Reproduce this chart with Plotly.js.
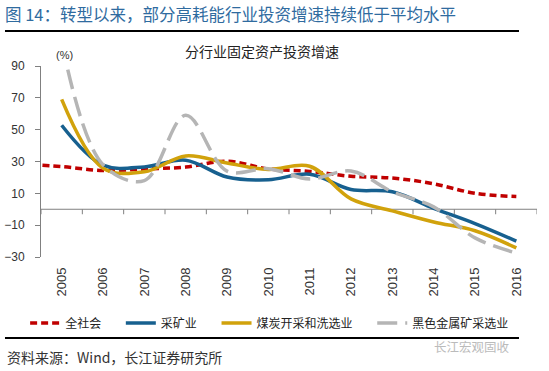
<!DOCTYPE html>
<html>
<head>
<meta charset="utf-8">
<script src="https://cdn.plot.ly/plotly-3.0.1.min.js"></script>
<style>html,body{margin:0;padding:0;background:#fff;}#chart{width:549px;height:371px;}</style>
</head>
<body>
<div id="chart"></div>
<script>
// ---- data ----
var years = [2005, 2006, 2007, 2008, 2009, 2010, 2011, 2012, 2013, 2014, 2015, 2016];
var yearLabels = ['2005','2006','2007','2008','2009','2010','2011','2012','2013','2014','2015','2016'];
// 全社会 line continues to the left edge of the plot, so it carries one earlier point
var allSocietyYears = [2004, 2005, 2006, 2007, 2008, 2009, 2010, 2011, 2012, 2013, 2014, 2015, 2016];
var allSociety = [28.5, 26.8, 24.3, 25.3, 26.5, 30.2, 25.3, 23.8, 20.7, 19.6, 16.0, 10.0, 8.0];
var mining = [52.8, 27.7, 26.6, 30.8, 20.3, 18.5, 22.0, 12.4, 11.0, 0.6, -9.0, -20.0];
var coal = [69.0, 25.8, 23.5, 33.5, 29.0, 25.0, 27.0, 6.5, -1.0, -8.0, -13.5, -24.3];
var ferrous = [105.0, 28.0, 18.0, 59.0, 24.0, 25.5, 19.0, 24.0, 11.0, 1.5, -18.0, -27.5];
var seriesNames = ['全社会', '采矿业', '煤炭开采和洗选业', '黑色金属矿采选业'];
var yTickVals = [-30, -10, 10, 30, 50, 70, 90];
var yMin = -30, yMax = 90;

var figTitle = '图 14：转型以来，部分高耗能行业投资增速持续低于平均水平';
var chartTitle = '分行业固定资产投资增速';
var unitLabel = '(%)';
var sourceText = '资料来源：Wind，长江证券研究所';
var watermark = '长江宏观固收';

// ---- styling ----
var pad = '\u2003\u00a0';
var lw = 3.5;
var axisGray = '#808080';
// category axis crossing at zero: boundaries between the year categories
var boundaries = [years[0] - 0.5].concat(years.map(function(y){ return y + 0.5; }));
var edgeX = [boundaries[0], boundaries[boundaries.length - 1]];

var traces = [
  // the horizontal axis line at zero, drawn under the series
  {x: edgeX, y: edgeX.map(function(){ return 0; }), mode: 'lines', showlegend: false,
   hoverinfo: 'skip', line: {color: axisGray, width: 1}},
  {x: allSocietyYears, y: allSociety, name: seriesNames[0] + pad, mode: 'lines',
   line: {color: '#c00000', width: lw, dash: '7px,4px', shape: 'spline'}},
  {x: years, y: mining, name: seriesNames[1] + pad, mode: 'lines',
   line: {color: '#17608f', width: lw, shape: 'spline'}},
  {x: years, y: coal, name: seriesNames[2] + pad, mode: 'lines',
   line: {color: '#d1a20c', width: lw, shape: 'spline'}},
  {x: years, y: ferrous, name: seriesNames[3], mode: 'lines',
   line: {color: '#b5b5b5', width: lw, dash: '20px,8px', shape: 'spline'}}
];

var cjk = '"Noto Sans CJK SC", "Noto Sans", sans-serif';
var latin = '"Liberation Sans", Arial, sans-serif';

var tickShapes = boundaries.map(function(b){
  return {type: 'line', xref: 'x', x0: b, x1: b, yref: 'y', ysizemode: 'pixel', yanchor: 0,
          y0: 0, y1: -5, layer: 'above', line: {color: axisGray, width: 1}};
});

var layout = {
  width: 549, height: 371,
  margin: {l: 41, r: 12, t: 66, b: 114},
  paper_bgcolor: '#fff', plot_bgcolor: 'rgba(0,0,0,0)',
  showlegend: true,
  title: {text: figTitle, x: 5/549, xanchor: 'left', y: 1 - 15/371, yanchor: 'middle',
          xref: 'container', yref: 'container',
          font: {family: cjk, size: 16.5, color: '#2f6b9f'}},
  xaxis: {range: [2004.5, 2016.5], tickmode: 'array', tickvals: years, ticktext: yearLabels,
          tickangle: -90, showline: false, ticks: '', showgrid: false, zeroline: false,
          ticklabelstandoff: 7,
          tickfont: {family: latin, size: 13, color: '#333'}},
  yaxis: {range: [yMin, yMax], tickmode: 'array', tickvals: yTickVals,
          ticks: 'outside', ticklen: 5, tickcolor: axisGray, showline: true,
          linecolor: axisGray, linewidth: 1, showgrid: false, zeroline: false,
          ticklabelstandoff: 8,
          tickfont: {family: latin, size: 12, color: '#333'}},
  legend: {orientation: 'h', x: -0.032, xanchor: 'left', y: -0.3455, yanchor: 'middle',
           font: {family: cjk, size: 12, color: '#222'}, bgcolor: 'rgba(0,0,0,0)',
           itemclick: false, itemdoubleclick: false},
  annotations: [
    {text: chartTitle, xref: 'paper', yref: 'paper', x: 0.4456, y: 1.0785,
     xanchor: 'center', yanchor: 'middle', showarrow: false,
     font: {family: cjk, size: 14, color: '#222'}},
    {text: unitLabel, xref: 'paper', yref: 'paper', x: 0.048, y: 1.058,
     xanchor: 'center', yanchor: 'middle', showarrow: false,
     font: {family: latin, size: 11, color: '#333'}},
    {text: sourceText, xref: 'paper', yref: 'paper', x: -0.0726, y: -0.5236,
     xanchor: 'left', yanchor: 'middle', showarrow: false,
     font: {family: cjk, size: 14, color: '#333'}},
    {text: watermark, xref: 'paper', yref: 'paper', x: 0.788, y: -0.471,
     xanchor: 'left', yanchor: 'middle', showarrow: false,
     font: {family: cjk, size: 12.5, color: '#bbbbbb'}}
  ],
  shapes: [
    {type: 'line', xref: 'paper', yref: 'paper', x0: -0.0726, x1: 0.9637, y0: 1.183, y1: 1.183,
     line: {color: '#000', width: 2}},
    {type: 'line', xref: 'paper', yref: 'paper', x0: -0.0726, x1: 0.9637, y0: -0.424, y1: -0.424,
     line: {color: '#000', width: 2}}
  ].concat(tickShapes)
};

Plotly.newPlot('chart', traces, layout, {staticPlot: true, displayModeBar: false});
</script>
</body>
</html>
